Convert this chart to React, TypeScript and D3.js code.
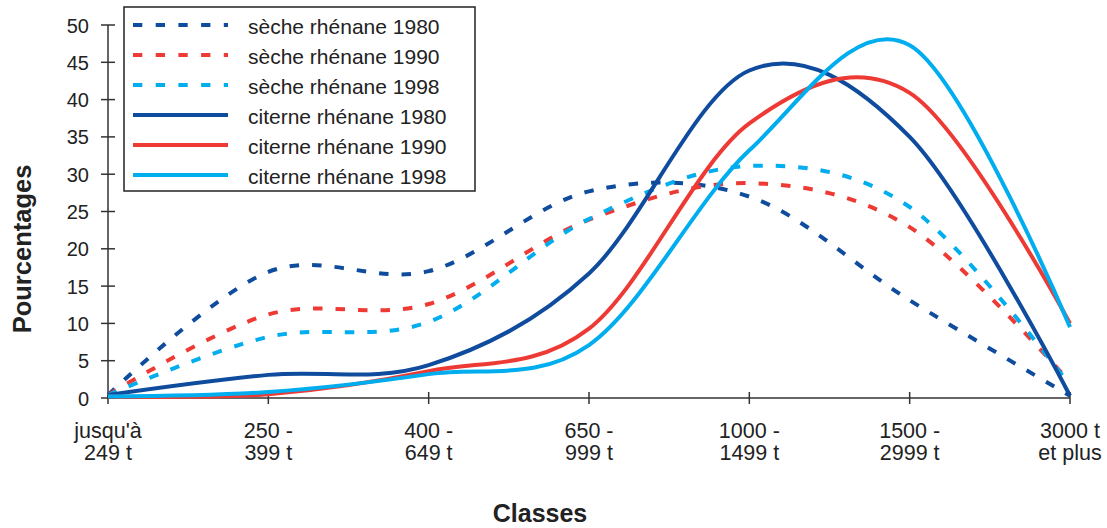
import React from "react";
import * as d3 from "d3";

const categories: string[][] = [
  ["jusqu'à", "249 t"],
  ["250 -", "399 t"],
  ["400 -", "649 t"],
  ["650 -", "999 t"],
  ["1000 -", "1499 t"],
  ["1500 -", "2999 t"],
  ["3000 t", "et plus"],
];

const seche1980 = [0.4, 16.9, 17.0, 27.7, 27.0, 13.1, 0.3];
const seche1990 = [0.4, 11.2, 12.6, 23.9, 28.8, 22.9, 2.1];
const seche1998 = [0.4, 8.2, 10.2, 24.0, 31.1, 25.6, 1.7];
const citerne1980 = [0.4, 3.1, 4.4, 16.7, 43.9, 35.0, 0.3];
const citerne1990 = [0.2, 0.5, 3.6, 9.3, 36.8, 40.9, 10.0];
const citerne1998 = [0.2, 0.8, 3.2, 7.1, 33.2, 47.3, 9.5];

const yTicks = [0, 5, 10, 15, 20, 25, 30, 35, 40, 45, 50];

const DARK = "#0f4c9e";
const RED = "#ee3a35";
const CYAN = "#00adee";

const series = [
  { name: "sèche rhénane 1980", values: seche1980, color: DARK, dashed: true },
  { name: "sèche rhénane 1990", values: seche1990, color: RED, dashed: true },
  { name: "sèche rhénane 1998", values: seche1998, color: CYAN, dashed: true },
  { name: "citerne rhénane 1980", values: citerne1980, color: DARK, dashed: false },
  { name: "citerne rhénane 1990", values: citerne1990, color: RED, dashed: false },
  { name: "citerne rhénane 1998", values: citerne1998, color: CYAN, dashed: false },
];

const FONT = "'Liberation Sans', Arial, Helvetica, sans-serif";
const AXIS = "#333";

export default function App() {
  const W = 1107;
  const H = 528;
  const idx = categories.map((_, i) => i);
  const x = d3.scalePoint<number>().domain(idx).range([108, 1070]).padding(0);
  const y = d3.scaleLinear().domain([0, 50]).range([398, 25]);

  const line = d3
    .line<number>()
    .x((_, i) => x(i) as number)
    .y((d) => y(d))
    .curve(d3.curveCardinal.tension(0));

  const legendX = 124;
  const legendY = 7;
  const rowH = 30;

  return (
    <svg
      width={W}
      height={H}
      style={{ position: "absolute", left: 0, top: 0, background: "#fff" }}
      fontFamily={FONT}
    >
      <rect x={0} y={0} width={W} height={H} fill="#fff" />
      {/* y axis */}
      <line x1={108} x2={108} y1={y(50)} y2={y(0)} stroke={AXIS} strokeWidth={1.5} />
      {yTicks.map((t) => (
        <g key={t}>
          <line x1={101} x2={115} y1={y(t)} y2={y(t)} stroke={AXIS} strokeWidth={1.5} />
          <text
            x={89}
            y={y(t) + 7.5}
            textAnchor="end"
            fontSize={20}
            fill="#222"
          >
            {t}
          </text>
        </g>
      ))}
      {/* x axis */}
      <line x1={108} x2={1070} y1={y(0)} y2={y(0)} stroke={AXIS} strokeWidth={1.5} />
      {idx.map((i) => (
        <g key={i}>
          <line
            x1={x(i) as number}
            x2={x(i) as number}
            y1={y(0) - 6}
            y2={y(0) + 6}
            stroke={AXIS}
            strokeWidth={1.5}
          />
          <text x={x(i) as number} y={438} textAnchor="middle" fontSize={21.5} fill="#222">
            {categories[i][0]}
          </text>
          <text x={x(i) as number} y={460} textAnchor="middle" fontSize={21.5} fill="#222">
            {categories[i][1]}
          </text>
        </g>
      ))}
      {/* axis titles */}
      <text
        x={540}
        y={522}
        textAnchor="middle"
        fontSize={25}
        fontWeight="bold"
        fill="#222"
      >
        Classes
      </text>
      <text
        transform={`translate(31,249) rotate(-90)`}
        textAnchor="middle"
        fontSize={25.5}
        fontWeight="bold"
        fill="#222"
      >
        Pourcentages
      </text>
      {/* series */}
      {series.map((s) => (
        <path
          key={s.name}
          d={line(s.values) || ""}
          fill="none"
          stroke={s.color}
          strokeWidth={4}
          strokeDasharray={s.dashed ? "9.5 13" : undefined}
          strokeLinejoin="round"
        />
      ))}
      {/* legend */}
      <rect
        x={legendX}
        y={legendY}
        width={351}
        height={184}
        fill="#fff"
        stroke="#222"
        strokeWidth={1.5}
      />
      {series.map((s, i) => {
        const cy = 25 + i * rowH;
        return (
          <g key={s.name}>
            <line
              x1={133}
              x2={228}
              y1={cy}
              y2={cy}
              stroke={s.color}
              strokeWidth={4}
              strokeDasharray={s.dashed ? "9.3 13.4" : undefined}
            />
            <text x={248} y={cy + 9} fontSize={21} fill="#222">
              {s.name}
            </text>
          </g>
        );
      })}
    </svg>
  );
}
